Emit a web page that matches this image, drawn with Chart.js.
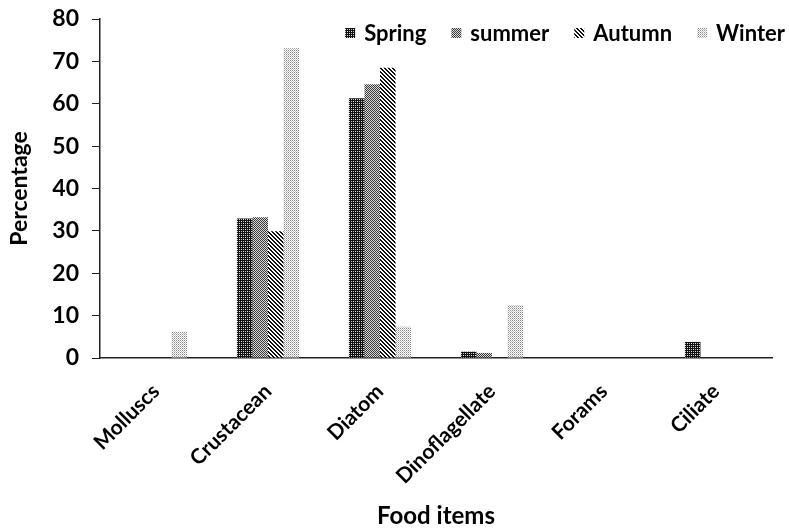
<!DOCTYPE html>
<html>
<head>
<meta charset="utf-8">
<script src="https://cdn.jsdelivr.net/npm/chart.js@4"></script>
<style>
  html, body { margin: 0; padding: 0; background: #fff; }
  #wrap { width: 789px; height: 531px; }
</style>
</head>
<body>
<div id="wrap"><canvas id="chart" width="789" height="531"></canvas></div>
<script>
const foodItems = ["Molluscs", "Crustacean", "Diatom", "Dinoflagellate", "Forams", "Ciliate"];
const spring = [0, 32.9, 61.3, 1.5, 0, 3.8];
const summer = [0, 33.2, 64.6, 1.2, 0, 0];
const autumn = [0, 29.9, 68.5, 0, 0, 0];
const winter = [6.2, 73.1, 7.4, 12.5, 0, 0];
const seasonNames = ["Spring", "summer", "Autumn", "Winter"];

const FONT = "Lato, 'Open Sans', sans-serif";

// small tiles turned into canvas fill patterns
function makePattern(size, paint) {
  const c = document.createElement("canvas");
  c.width = size; c.height = size;
  const g = c.getContext("2d");
  paint(g, size);
  return document.getElementById("chart").getContext("2d").createPattern(c, "repeat");
}
function px(g, x, y, col) { g.fillStyle = col; g.fillRect(x, y, 1, 1); }

const springFill = makePattern(4, (g) => {
  g.fillStyle = "#111"; g.fillRect(0, 0, 4, 4);
  px(g, 1, 1, "#eee"); px(g, 3, 1, "#bbb"); px(g, 1, 3, "#bbb"); px(g, 3, 3, "#eee");
});
const summerFill = makePattern(2, (g) => {
  g.fillStyle = "#d8d8d8"; g.fillRect(0, 0, 2, 2);
  px(g, 0, 0, "#3a3a3a"); px(g, 1, 1, "#3a3a3a");
});
const autumnFill = makePattern(4, (g) => {
  g.fillStyle = "#fff"; g.fillRect(0, 0, 4, 4);
  for (let y = 0; y < 4; y++) for (let x = 0; x < 4; x++) {
    if (((x - y + 8) % 4) < 2) px(g, x, y, "#111");
  }
});
const winterFill = makePattern(2, (g) => {
  g.fillStyle = "#fff"; g.fillRect(0, 0, 2, 2);
  px(g, 0, 0, "#8a8a8a"); px(g, 1, 1, "#c4c4c4");
});

const fills = [springFill, summerFill, autumnFill, winterFill];
const series = [spring, summer, autumn, winter];

// legend drawn inside the plot, top right, laid out from the right edge
const insideLegend = {
  id: "insideLegend",
  afterDraw(chart) {
    const ctx = chart.ctx;
    ctx.save();
    ctx.font = "bold 22px " + FONT;
    ctx.textBaseline = "middle";
    let right = 785;
    const items = chart.data.datasets.slice().reverse();
    items.forEach((ds) => {
      const w = ctx.measureText(ds.label).width;
      const tx = right - w;
      const bx = tx - 19;
      ctx.fillStyle = ds.backgroundColor;
      ctx.fillRect(bx, 28, 10, 10);
      ctx.fillStyle = "#000";
      ctx.fillText(ds.label, tx, 34);
      right = bx - 25;
    });
    ctx.restore();
  }
};

new Chart(document.getElementById("chart"), {
  type: "bar",
  data: {
    labels: foodItems,
    datasets: series.map((d, i) => ({
      label: seasonNames[i],
      data: d,
      backgroundColor: fills[i],
      borderWidth: 0,
      categoryPercentage: 0.555,
      barPercentage: 1
    }))
  },
  options: {
    responsive: false,
    animation: false,
    layout: { padding: { left: 0, right: 17, top: 19, bottom: 0 } },
    plugins: {
      legend: { display: false },
      tooltip: { enabled: false }
    },
    scales: {
      x: {
        grid: { display: false, drawTicks: false },
        border: { color: "#222", width: 1.5 },
        ticks: {
          color: "#000",
          font: { family: FONT, size: 21, weight: "bold" },
          minRotation: 45,
          maxRotation: 45,
          padding: 21,
          labelOffset: 0
        },
        title: {
          display: true,
          text: "Food items",
          color: "#000",
          font: { family: FONT, size: 24, weight: "bold" },
          padding: { top: 0, bottom: 0 }
        },
        afterFit(scale) {
          scale.height = 173;
          scale.paddingLeft = 0;
          scale.paddingRight = 0;
        }
      },
      y: {
        min: 0,
        max: 80,
        grid: { drawOnChartArea: false, tickLength: 8, color: "#222", lineWidth: 1 },
        border: { color: "#222", width: 1.5 },
        ticks: {
          stepSize: 10,
          color: "#000",
          padding: 13,
          font: { family: FONT, size: 23, weight: "bold" }
        },
        title: {
          display: true,
          text: "Percentage",
          color: "#000",
          font: { family: FONT, size: 23, weight: "bold" },
          padding: { top: 6, bottom: 0 }
        },
        afterFit(scale) {
          scale.width = 100;
          scale.paddingTop = 0;
          scale.paddingBottom = 0;
        }
      }
    }
  },
  plugins: [insideLegend]
});
</script>
</body>
</html>
